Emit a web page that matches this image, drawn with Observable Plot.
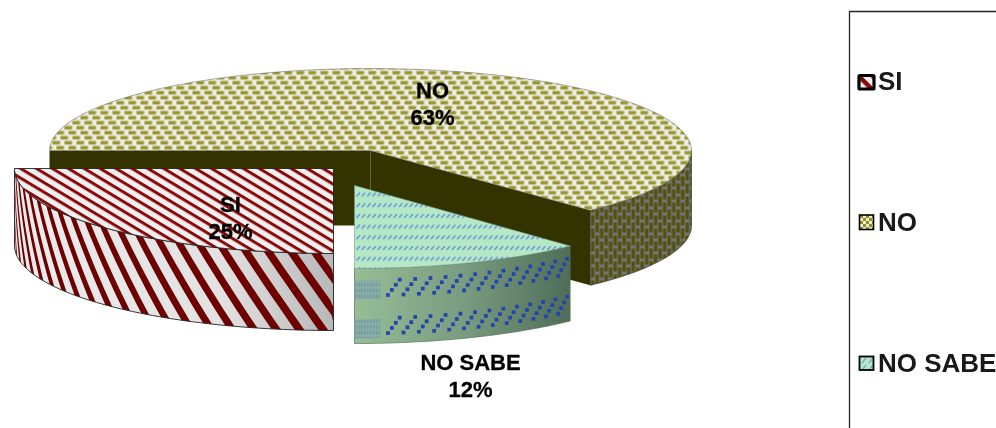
<!DOCTYPE html>
<html><head><meta charset="utf-8">
<style>html,body{margin:0;background:#fff}svg{display:block;filter:blur(.4px)}</style>
<script src="https://cdn.jsdelivr.net/npm/d3@7"></script>
<script src="https://cdn.jsdelivr.net/npm/@observablehq/plot@0.6"></script>
</head><body><div id="c"></div><script>
const categories = ["SI","NO","NO SABE"];
const shares = [25,63,12];
const startAngle = 180;

// pie layout
const geom = {
  SI: {x:333,y:168,rx:319,ry:85,d:77},
  NO: {x:370,y:150,rx:321,ry:82,d:75},
  "NO SABE": {x:354,y:185,rx:315,ry:83,d:75}
};
const labelPos = {SI:[230,216],NO:[432,102],"NO SABE":[470,374]};
const legendY = {SI:81,NO:222,"NO SABE":363};
const rad = a => a*Math.PI/180;
let acc = startAngle;
const span = {};
categories.forEach((c,i)=>{span[c]=[acc,acc+shares[i]*3.6];acc+=shares[i]*3.6;});
const pt = (g,a,v=0)=>({x:g.x+g.rx*Math.sin(rad(a)),y:g.y-g.ry*Math.cos(rad(a))+v});
const arc = (g,a0,a1,v=0)=>d3.range(0,61).map(i=>pt(g,a0+(a1-a0)*i/60,v));
const closeRing = p=>[...p,p[0]];
const poly = (p,fill,stroke="none",sw=0.8)=>Plot.line(closeRing(p),{x:"x",y:"y",fill,stroke,strokeWidth:sw,curve:"linear"});
const wall = (g,a0,a1)=>[...arc(g,a0,a1),...arc(g,a1,a0,g.d)];
const sector = (g,a0,a1)=>[{x:g.x,y:g.y},...arc(g,a0,a1)];

const gN=geom.NO,gS=geom.SI,gA=geom["NO SABE"];
const [n0,n1]=span.NO,[s0,s1]=span.SI,[a0,a1]=span["NO SABE"];

// SI side stripes, following the curved wall
const siStripes = d3.range(-3,24).map(k=>{
  const clampA=a=>Math.min(s1,Math.max(s0,a));
  const base=s0+2.3+4.3*k, w=1.75;
  const vs=d3.range(0,11).map(i=>i/10);
  const edge=(off,rev)=>{const r=vs.map(v=>pt(gS,clampA(base+off-v*10),v*gS.d));return rev?r.reverse():r;};
  return [...edge(0,false),...edge(w,true)];
});

// NO SABE side dots
const aDots=[];
[27,65].forEach(v0=>d3.range(0,14).forEach(k=>d3.range(0,4).forEach(j=>{
  const psi=6.1+2.85*k+j*0.72;
  if(psi<=a1-a0-0.4){
    const p=pt(gA,a1-psi,v0-j*5);
    aDots.push(p);
  }
})));
const aBand=(v0,v1)=>[...arc(gA,a1,a1-4.7,v0),...arc(gA,a1-4.7,a1,v1)];

const labels=categories.map((c,i)=>({t:`${c}\n${shares[i]}%`,x:labelPos[c][0],y:labelPos[c][1]}));
const legendRows=categories.map(c=>({t:c,y:legendY[c]}));

const plot=Plot.plot({
  width:996,height:428,margin:0,
  x:{domain:[0,996],axis:null},y:{domain:[428,0],axis:null},
  marks:[
    // NO slice
    poly([pt(gN,n0),{x:gN.x,y:gN.y},{x:gN.x,y:gN.y+gN.d},pt(gN,n0,gN.d)],"#333300"),
    poly([pt(gN,n1),{x:gN.x,y:gN.y},{x:gN.x,y:gN.y+gN.d},pt(gN,n1,gN.d)],"#333300"),
    poly(wall(gN,450,n1),"url(#noWall)","#3a3a3a",0.7),
    poly(sector(gN,n0,n1),"url(#noTop)","#77776a",0.6),
    // NO SABE slice
    poly(wall(gA,a0,a1),"url(#saGrad)","#59705f",0.7),
    poly(aBand(12,31),"url(#saBand)"),
    poly(aBand(51,70),"url(#saBand)"),
    Plot.dot(aDots,{x:"x",y:"y",symbol:"square",r:2.1,fill:"#2244b0"}),
    poly(sector(gA,a0,a1),"url(#saTop)","#7d9a88",0.6),
    // SI slice
    poly(wall(gS,s0,s1),"url(#siGrad)"),
    ...siStripes.map(p=>poly(p,"#6e0000")),
    poly(wall(gS,s0,s1),"none","#222",0.9),
    poly(sector(gS,s0,s1),"url(#siTop)","#222",0.9),
    // data labels
    Plot.text(labels,{x:"x",y:"y",text:"t",fontSize:22,fontWeight:"bold",lineHeight:1.23,fill:"#000",stroke:"#000",strokeWidth:0.3,fontFamily:"Liberation Sans"}),
    // legend
    Plot.line([{x:849,y:428},{x:849,y:11},{x:996,y:11}],{x:"x",y:"y",stroke:"#222",strokeWidth:1.3}),
    Plot.rect([{c:"SI"}],{x1:()=>859,x2:()=>874,y1:()=>legendY.SI-5.5,y2:()=>legendY.SI+8,fill:"url(#lgSi)",stroke:"#000",strokeWidth:3.2,rx:1}),
    Plot.rect([{c:"NO"}],{x1:()=>859.5,x2:()=>873.5,y1:()=>legendY.NO-7,y2:()=>legendY.NO+7.5,fill:"url(#lgNo)",stroke:"#000",strokeWidth:1.6}),
    Plot.rect([{c:"NO SABE"}],{x1:()=>859.5,x2:()=>873.5,y1:()=>legendY["NO SABE"]-6.5,y2:()=>legendY["NO SABE"]+7,fill:"url(#saLg)",stroke:"#000",strokeWidth:1.8}),
    Plot.text(legendRows,{x:()=>877.5,y:"y",text:"t",textAnchor:"start",fontSize:26,fontWeight:"bold",fill:"#000",fontFamily:"Liberation Sans",opacity:.9})
  ]
});

const defs=`
<defs>
<pattern id="noTop" width="12" height="15" patternUnits="userSpaceOnUse">
  <rect width="12" height="15" fill="#ecece2"/>
  <g fill="#95952c">
  <rect x="0" y="0.5" width="7.5" height="3.4"/>
  <rect x="4" y="5.5" width="7.5" height="3.4"/>
  <rect x="8" y="10.5" width="7.5" height="3.4"/><rect x="-4" y="10.5" width="7.5" height="3.4"/>
  </g>
</pattern>
<pattern id="lgNo" width="6" height="6" patternUnits="userSpaceOnUse" patternTransform="translate(860,215)">
  <rect width="6" height="6" fill="#eeeed8"/>
  <rect width="3" height="3" fill="#8f8f22"/><rect x="3" y="3" width="3" height="3" fill="#8f8f22"/>
</pattern>
<pattern id="noWall" width="9" height="13" patternUnits="userSpaceOnUse">
  <rect width="9" height="13" fill="#757575"/>
  <rect x="1" y="1" width="3.4" height="10" fill="#50500f"/>
  <rect x="5.5" y="7" width="3.4" height="10" fill="#50500f"/><rect x="5.5" y="-6" width="3.4" height="10" fill="#50500f"/>
</pattern>
<pattern id="siTop" width="12" height="8.2" patternUnits="userSpaceOnUse" patternTransform="rotate(31) translate(0,1)">
  <rect width="12" height="8.2" fill="#f0f0f0"/><rect width="12" height="3" fill="#8a0808"/>
</pattern>
<linearGradient id="siGrad" gradientUnits="userSpaceOnUse" x1="14" x2="333" y1="0" y2="0">
  <stop offset="0" stop-color="#ececec"/><stop offset=".65" stop-color="#e2e2e2"/><stop offset="1" stop-color="#b8b8b8"/>
</linearGradient>
<linearGradient id="saGrad" gradientUnits="userSpaceOnUse" x1="354" x2="570" y1="0" y2="0">
  <stop offset="0" stop-color="#97bd96"/><stop offset=".5" stop-color="#7a9c7f"/><stop offset="1" stop-color="#4f6d58"/>
</linearGradient>
<pattern id="saTop" width="5.3" height="10.7" patternUnits="userSpaceOnUse" patternTransform="translate(355,191)">
  <rect width="5.3" height="10.7" fill="#b5e8c6"/>
  <line x1="1" y1="5" x2="4.4" y2="1.2" stroke="#5f8ddc" stroke-width="1.4"/>
</pattern>
<pattern id="saBand" width="3" height="6" patternUnits="userSpaceOnUse">
  <rect width="3" height="6" fill="#8fb2a0"/>
  <rect x=".6" width="1.4" height="4.5" fill="#6a94ac"/>
</pattern>
<pattern id="lgSi" width="10" height="10" patternUnits="userSpaceOnUse" patternTransform="translate(859,76) rotate(45) translate(0,-2)">
  <rect width="10" height="10" fill="#f3f3f3"/><rect width="10" height="4.5" fill="#8a0808"/>
</pattern>
<pattern id="saLg" width="7" height="7" patternUnits="userSpaceOnUse">
  <rect width="7" height="7" fill="#b5e8c6"/><line x1="1" y1="6" x2="5" y2="1" stroke="#5f8ddc" stroke-width="1.1"/>
</pattern>
</defs>`;
plot.insertAdjacentHTML("afterbegin",defs);
document.getElementById("c").append(plot);
</script></body></html>
